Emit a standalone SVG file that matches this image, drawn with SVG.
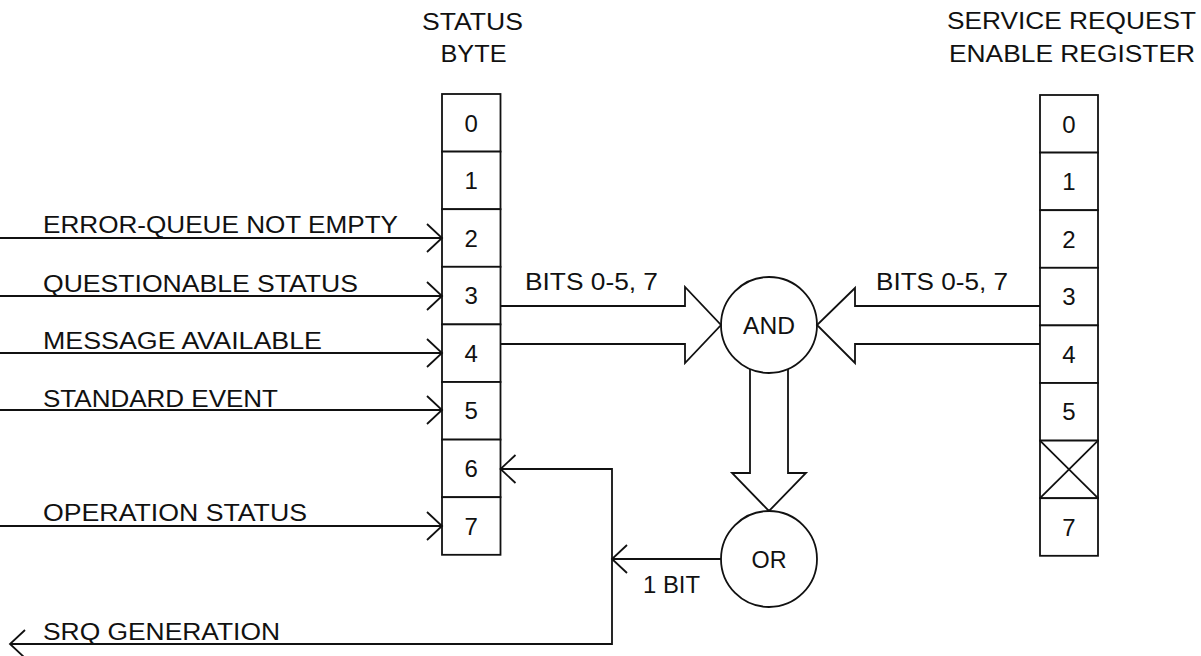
<svg xmlns="http://www.w3.org/2000/svg" width="1201" height="656" viewBox="0 0 1201 656">
  <style>
    text { font-family: "Liberation Sans", Arial, sans-serif; font-size: 23px; fill: #111; }
    .digit { font-size: 24px; text-anchor: middle; }
    .mid { text-anchor: middle; }
    .ln { fill: none; stroke: #111; stroke-width: 1.8; }
    .cell { fill: #fff; stroke: #111; stroke-width: 1.8; }
  </style>
  <defs>
    <marker id="chev" viewBox="-17 -16 19 32" refX="0" refY="0" markerWidth="19" markerHeight="32" markerUnits="userSpaceOnUse" orient="auto-start-reverse">
      <path d="M-15,-14 L0,0 L-15,14" fill="none" stroke="#111" stroke-width="1.8"/>
    </marker>
  </defs>

  <rect width="1201" height="656" fill="#fff"/>

  <!-- register headers -->
  <g id="status-byte-title">
    <text class="mid" x="472.5" y="29.5" textLength="101" lengthAdjust="spacingAndGlyphs">STATUS</text>
    <text class="mid" x="473.5" y="62" textLength="66" lengthAdjust="spacingAndGlyphs">BYTE</text>
  </g>
  <g id="sre-title">
    <text x="947" y="29" textLength="249" lengthAdjust="spacingAndGlyphs">SERVICE REQUEST</text>
    <text x="949" y="62" textLength="246" lengthAdjust="spacingAndGlyphs">ENABLE REGISTER</text>
  </g>

  <!-- status byte register, bits 0..7 -->
  <g id="status-byte">
    <rect class="cell" x="442" y="94" width="58.5" height="57.6"/>
    <rect class="cell" x="442" y="151.6" width="58.5" height="57.6"/>
    <rect class="cell" x="442" y="209.2" width="58.5" height="57.6"/>
    <rect class="cell" x="442" y="266.8" width="58.5" height="57.6"/>
    <rect class="cell" x="442" y="324.4" width="58.5" height="57.6"/>
    <rect class="cell" x="442" y="382" width="58.5" height="57.6"/>
    <rect class="cell" x="442" y="439.6" width="58.5" height="57.6"/>
    <rect class="cell" x="442" y="497.2" width="58.5" height="57.6"/>
    <text class="digit" x="471.2" y="131.5">0</text>
    <text class="digit" x="471.2" y="189">1</text>
    <text class="digit" x="471.2" y="246.5">2</text>
    <text class="digit" x="471.2" y="304">3</text>
    <text class="digit" x="471.2" y="361.5">4</text>
    <text class="digit" x="471.2" y="419">5</text>
    <text class="digit" x="471.2" y="477">6</text>
    <text class="digit" x="471.2" y="534.5">7</text>
  </g>

  <!-- service request enable register, bit 6 unused -->
  <g id="sre-register">
    <rect class="cell" x="1040" y="95" width="58" height="57.6"/>
    <rect class="cell" x="1040" y="152.6" width="58" height="57.6"/>
    <rect class="cell" x="1040" y="210.2" width="58" height="57.6"/>
    <rect class="cell" x="1040" y="267.8" width="58" height="57.6"/>
    <rect class="cell" x="1040" y="325.4" width="58" height="57.6"/>
    <rect class="cell" x="1040" y="383" width="58" height="57.6"/>
    <rect class="cell" x="1040" y="440.6" width="58" height="57.6"/>
    <rect class="cell" x="1040" y="498.2" width="58" height="57.6"/>
    <path class="ln" d="M1040,440.6 L1098,498.2 M1098,440.6 L1040,498.2"/>
    <text class="digit" x="1069" y="132.5">0</text>
    <text class="digit" x="1069" y="190">1</text>
    <text class="digit" x="1069" y="247.5">2</text>
    <text class="digit" x="1069" y="305">3</text>
    <text class="digit" x="1069" y="362.5">4</text>
    <text class="digit" x="1069" y="420">5</text>
    <text class="digit" x="1069" y="535.5">7</text>
  </g>

  <g id="and-gate">
    <circle class="cell" cx="769" cy="325" r="48"/>
    <text class="mid" x="769" y="333.5" textLength="52" lengthAdjust="spacingAndGlyphs">AND</text>
  </g>

  <g id="or-gate">
    <circle class="cell" cx="769" cy="559" r="48"/>
    <text class="mid" x="769" y="568" textLength="35" lengthAdjust="spacingAndGlyphs">OR</text>
  </g>

  <!-- connectors -->
  <g id="connectors">
    <!-- summary inputs -->
    <path class="ln" d="M0,238 H442" marker-end="url(#chev)"/>
    <path class="ln" d="M0,296 H442" marker-end="url(#chev)"/>
    <path class="ln" d="M0,353 H442" marker-end="url(#chev)"/>
    <path class="ln" d="M0,410 H442" marker-end="url(#chev)"/>
    <path class="ln" d="M0,526 H442" marker-end="url(#chev)"/>

    <!-- wide bus arrows into the AND gate -->
    <path class="ln" d="M500.5,306 H685 V287 L721,325 L685,363 V344 H500.5"/>
    <path class="ln" d="M1040,306 H855 V288 L817,325 L855,363 V344 H1040"/>
    <!-- AND to OR -->
    <path class="ln" d="M750,369 V473 H732 L769,511 L806,473 H788 V369"/>

    <!-- OR output: 1 bit back to bit 6 and SRQ -->
    <path class="ln" d="M721,559 H612" marker-end="url(#chev)"/>
    <path class="ln" d="M10,644 H612 V469 H500.5" marker-start="url(#chev)" marker-end="url(#chev)"/>
  </g>

  <g id="labels">
    <text x="43" y="233" textLength="355" lengthAdjust="spacingAndGlyphs">ERROR-QUEUE NOT EMPTY</text>
    <text x="43" y="291.5" textLength="315" lengthAdjust="spacingAndGlyphs">QUESTIONABLE STATUS</text>
    <text x="43" y="349" textLength="279" lengthAdjust="spacingAndGlyphs">MESSAGE AVAILABLE</text>
    <text x="43" y="406.5" textLength="235" lengthAdjust="spacingAndGlyphs">STANDARD EVENT</text>
    <text x="43" y="521" textLength="264" lengthAdjust="spacingAndGlyphs">OPERATION STATUS</text>
    <text x="43" y="640" textLength="237" lengthAdjust="spacingAndGlyphs">SRQ GENERATION</text>
    <text x="525" y="289.5" textLength="133" lengthAdjust="spacingAndGlyphs">BITS 0-5, 7</text>
    <text x="876" y="290" textLength="132" lengthAdjust="spacingAndGlyphs">BITS 0-5, 7</text>
    <text x="643" y="592.5" textLength="57" lengthAdjust="spacingAndGlyphs">1 BIT</text>
  </g>
</svg>
